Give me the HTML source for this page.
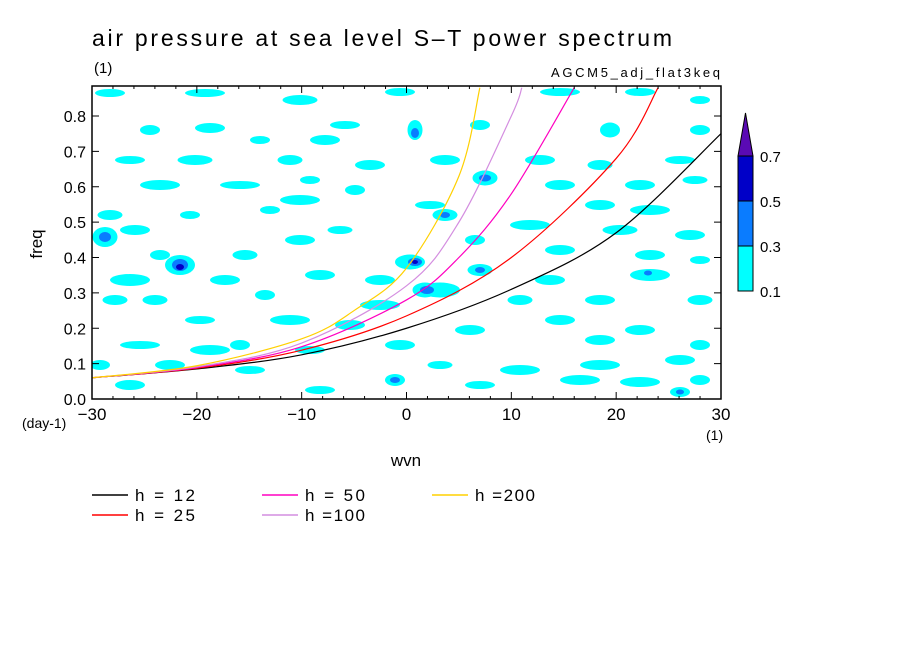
<!DOCTYPE html>
<html><head><meta charset="utf-8">
<style>
body{margin:0;background:#fff;}
svg{display:block;font-family:"Liberation Sans","DejaVu Sans",sans-serif;}
</style></head>
<body>
<svg id="chart" width="904" height="654" xmlns="http://www.w3.org/2000/svg">
<rect width="904" height="654" fill="#fff"/>
<text x="92" y="46" font-size="23" textLength="580" lengthAdjust="spacing">air pressure at sea level S–T power spectrum</text>
<text x="94" y="73" font-size="15">(1)</text>
<text x="551" y="77" font-size="13" textLength="169" lengthAdjust="spacing">AGCM5_adj_flat3keq</text>
<defs><clipPath id="pc"><rect x="92" y="86" width="629" height="313"/></clipPath></defs>
<g id="blobs" clip-path="url(#pc)"></g>
<g id="curves" clip-path="url(#pc)"></g>
<rect x="92" y="86" width="629" height="313" fill="none" stroke="#000" stroke-width="1.5"/>
<g id="axes"></g>
<text x="42" y="244" font-size="17" transform="rotate(-90 42 244)" text-anchor="middle">freq</text>
<text x="406" y="466" font-size="17" text-anchor="middle">wvn</text>
<text x="22" y="428" font-size="14">(day-1)</text>
<text x="706" y="440" font-size="14">(1)</text>
<g id="cbar"></g>
<g id="legend"></g>
</svg>
<script>
const xTicks=[-30,-20,-10,0,10,20,30];
const yTicks=[0.0,0.1,0.2,0.3,0.4,0.5,0.6,0.7,0.8];
const curveNames=["h = 12","h = 25","h = 50","h =100","h =200"];
const curveColors=["#000000","#ff0000","#ff00c0","#d48ee0","#ffd000"];
const curveK=[
 [-30,-20,-10,0,10,20,30],
 [-30,-20,-10,0,10,20,24],
 [-30,-20,-10,0,5,10,16],
 [-30,-20,-10,0,5,10,11],
 [-30,-20,-10,-5,0,5,7]];
const curveF=[
 [0.06,0.085,0.125,0.2,0.31,0.47,0.75],
 [0.06,0.087,0.138,0.235,0.4,0.68,0.88],
 [0.06,0.089,0.148,0.28,0.4,0.58,0.88],
 [0.06,0.091,0.158,0.32,0.5,0.8,0.88],
 [0.06,0.094,0.17,0.25,0.37,0.63,0.88]];
const levels=[0.1,0.3,0.5,0.7];
const levelColors=["#00ffff","#0a7cff","#0000c8","#5a0ab4"];
// contour blob geometry [x,y,w,h,level]
const blobShapes=[[110,93,30,8,0],[205,93,40,8,0],[300,100,35,10,0],[400,92,30,8,0],[560,92,40,8,0],[640,92,30,8,0],[700,100,20,8,0],
[150,130,20,10,0],[210,128,30,10,0],[260,140,20,8,0],[325,140,30,10,0],[345,125,30,8,0],[415,130,15,20,0],[415,133,8,10,1],[480,125,20,10,0],[610,130,20,15,0],[700,130,20,10,0],
[130,160,30,8,0],[195,160,35,10,0],[290,160,25,10,0],[370,165,30,10,0],[445,160,30,10,0],[540,160,30,10,0],[600,165,25,10,0],[680,160,30,8,0],
[160,185,40,10,0],[240,185,40,8,0],[310,180,20,8,0],[355,190,20,10,0],[485,178,25,15,0],[485,178,12,7,1],[560,185,30,10,0],[640,185,30,10,0],[695,180,25,8,0],
[110,215,25,10,0],[190,215,20,8,0],[270,210,20,8,0],[300,200,40,10,0],[430,205,30,8,0],[600,205,30,10,0],[650,210,40,10,0],
[105,237,25,20,0],[105,237,12,10,1],[135,230,30,10,0],[300,240,30,10,0],[340,230,25,8,0],[445,215,25,12,0],[445,215,10,6,1],[530,225,40,10,0],[620,230,35,10,0],[690,235,30,10,0],
[160,255,20,10,0],[245,255,25,10,0],[410,262,30,15,0],[415,262,14,8,1],[415,262,6,4,2],[475,240,20,10,0],[560,250,30,10,0],[650,255,30,10,0],[700,260,20,8,0],
[130,280,40,12,0],[180,265,30,20,0],[180,265,16,12,1],[180,267,8,6,2],[225,280,30,10,0],[320,275,30,10,0],[380,280,30,10,0],[440,290,40,15,0],[480,270,25,12,0],[480,270,10,6,1],[550,280,30,10,0],[650,275,40,12,0],[648,273,8,5,1],
[115,300,25,10,0],[155,300,25,10,0],[265,295,20,10,0],[380,305,40,10,0],[425,290,25,15,0],[427,290,14,8,1],[520,300,25,10,0],[600,300,30,10,0],[700,300,25,10,0],
[200,320,30,8,0],[290,320,40,10,0],[350,325,30,10,0],[470,330,30,10,0],[560,320,30,10,0],[640,330,30,10,0],
[140,345,40,8,0],[210,350,40,10,0],[240,345,20,10,0],[310,350,30,8,0],[400,345,30,10,0],[600,340,30,10,0],[700,345,20,10,0],
[100,365,20,10,0],[170,365,30,10,0],[250,370,30,8,0],[440,365,25,8,0],[520,370,40,10,0],[600,365,40,10,0],[680,360,30,10,0],
[130,385,30,10,0],[320,390,30,8,0],[395,380,20,12,0],[395,380,10,6,1],[480,385,30,8,0],[580,380,40,10,0],[640,382,40,10,0],[680,392,20,10,0],[680,392,8,5,1],[700,380,20,10,0]];

const NS="http://www.w3.org/2000/svg";
const X0=92,X1=721,Y0=399,Y1=86;
const xs=k=>X0+(k+30)/60*(X1-X0);
const ys=f=>Y0-f/0.8*(Y0-116);
function mk(t,a,p){const e=document.createElementNS(NS,t);for(const k in a)e.setAttribute(k,a[k]);p.appendChild(e);return e;}

const gb=document.getElementById('blobs');
blobShapes.forEach(b=>{
 const e=mk('ellipse',{cx:b[0],cy:b[1],rx:b[2]/2,ry:b[3]/2,fill:levelColors[b[4]]},gb);
 
 
});

const gc=document.getElementById('curves');
curveK.forEach((ks,i)=>{
 const p=ks.map((k,j)=>[xs(k),ys(curveF[i][j])]);
 let d='M'+p[0][0]+','+p[0][1];
 for(let j=0;j<p.length-1;j++){
  const a=p[Math.max(j-1,0)],b=p[j],c=p[j+1],e=p[Math.min(j+2,p.length-1)];
  d+=' C'+(b[0]+(c[0]-a[0])/6)+','+(b[1]+(c[1]-a[1])/6)+' '+(c[0]-(e[0]-b[0])/6)+','+(c[1]-(e[1]-b[1])/6)+' '+c[0]+','+c[1];
 }
 const el=mk('path',{d:d,fill:'none',stroke:curveColors[i],'stroke-width':1.2},gc);
 
 
});

const ga=document.getElementById('axes');
xTicks.forEach(k=>{
 mk('line',{x1:xs(k),x2:xs(k),y1:Y0,y2:Y0-7,stroke:'#000'},ga);
 mk('line',{x1:xs(k),x2:xs(k),y1:Y1,y2:Y1+7,stroke:'#000'},ga);
 const t=mk('text',{x:xs(k),y:Y0+21,'font-size':17,'text-anchor':'middle'},ga);
 t.textContent=k<0?'−'+(-k):String(k);
 
 
});
for(let k=-28;k<=28;k+=2){if(k%10){mk('line',{x1:xs(k),x2:xs(k),y1:Y0,y2:Y0-3,stroke:'#000'},ga);mk('line',{x1:xs(k),x2:xs(k),y1:Y1,y2:Y1+3,stroke:'#000'},ga);}}
yTicks.forEach(f=>{
 mk('line',{x1:X0,x2:X0+7,y1:ys(f),y2:ys(f),stroke:'#000'},ga);
 mk('line',{x1:X1,x2:X1-7,y1:ys(f),y2:ys(f),stroke:'#000'},ga);
 const t=mk('text',{x:X0-6,y:ys(f)+6,'font-size':16,'text-anchor':'end'},ga);
 t.textContent=f.toFixed(1);
 
 
});

const cb=document.getElementById('cbar');
const cy=v=>291-(v-0.1)/0.6*(291-156);
for(let i=0;i<3;i++){
 const r=mk('rect',{x:738,y:cy(levels[i+1]),width:15,height:cy(levels[i])-cy(levels[i+1]),fill:levelColors[i],stroke:'#000'},cb);
 
 
}
const tri=mk('polygon',{points:'738,'+cy(0.7)+' 753,'+cy(0.7)+' 745.5,113',fill:levelColors[3],stroke:'#000'},cb);


levels.forEach(v=>{
 const t=mk('text',{x:760,y:cy(v)+6,'font-size':15},cb);
 t.textContent=v.toFixed(1);
 
 
});

const gl=document.getElementById('legend');
curveNames.forEach((n,i)=>{
 const col=Math.floor(i/2),row=i%2;
 const x=92+col*170,y=495+row*20;
 mk('line',{x1:x,x2:x+36,y1:y,y2:y,stroke:curveColors[i],'stroke-width':1.5},gl);
 const t=mk('text',{x:x+43,y:y+6,'font-size':17,textLength:60,lengthAdjust:'spacing'},gl);
 t.textContent=n;
 
 
});
</script>
</body></html>
